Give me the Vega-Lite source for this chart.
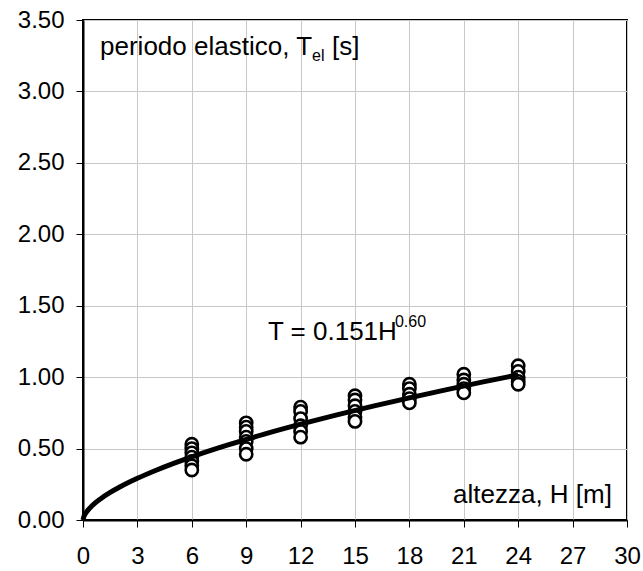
{
  "$schema": "https://vega.github.io/schema/vega-lite/v6.json",
  "autosize": "none",
  "width": 544,
  "height": 500,
  "padding": {"left": 83, "top": 20, "right": 16, "bottom": 51},
  "background": "white",
  "config": {
    "view": {"stroke": "black", "strokeWidth": 2},
    "font": "Liberation Sans"
  },
  "datasets": {
    "pts": [
      {"H": 6, "T": 0.53}, {"H": 6, "T": 0.50}, {"H": 6, "T": 0.47}, {"H": 6, "T": 0.44}, {"H": 6, "T": 0.41}, {"H": 6, "T": 0.38}, {"H": 6, "T": 0.35},
      {"H": 9, "T": 0.68}, {"H": 9, "T": 0.65}, {"H": 9, "T": 0.62}, {"H": 9, "T": 0.58}, {"H": 9, "T": 0.55}, {"H": 9, "T": 0.50}, {"H": 9, "T": 0.46},
      {"H": 12, "T": 0.79}, {"H": 12, "T": 0.76}, {"H": 12, "T": 0.71}, {"H": 12, "T": 0.66}, {"H": 12, "T": 0.62}, {"H": 12, "T": 0.58},
      {"H": 15, "T": 0.87}, {"H": 15, "T": 0.84}, {"H": 15, "T": 0.80}, {"H": 15, "T": 0.76}, {"H": 15, "T": 0.72}, {"H": 15, "T": 0.69},
      {"H": 18, "T": 0.95}, {"H": 18, "T": 0.92}, {"H": 18, "T": 0.88}, {"H": 18, "T": 0.85}, {"H": 18, "T": 0.82},
      {"H": 21, "T": 1.02}, {"H": 21, "T": 0.98}, {"H": 21, "T": 0.95}, {"H": 21, "T": 0.92}, {"H": 21, "T": 0.89},
      {"H": 24, "T": 1.08}, {"H": 24, "T": 1.04}, {"H": 24, "T": 1.00}, {"H": 24, "T": 0.97}, {"H": 24, "T": 0.95}
    ],
    "fit": [
      {"H": 0, "T": 0}, {"H": 0.05, "T": 0.025}, {"H": 0.1, "T": 0.0379}, {"H": 0.25, "T": 0.0657}, {"H": 0.5, "T": 0.0996},
      {"H": 1, "T": 0.151}, {"H": 1.5, "T": 0.1926}, {"H": 2, "T": 0.2289}, {"H": 3, "T": 0.2919}, {"H": 4, "T": 0.3469},
      {"H": 5, "T": 0.3966}, {"H": 6, "T": 0.4425}, {"H": 8, "T": 0.5258}, {"H": 10, "T": 0.6011}, {"H": 12, "T": 0.6706},
      {"H": 14, "T": 0.7356}, {"H": 16, "T": 0.797}, {"H": 18, "T": 0.8553}, {"H": 20, "T": 0.9112}, {"H": 22, "T": 0.9648},
      {"H": 24, "T": 1.0165}
    ],
    "leftLabels": [
      {"H": 0.94, "T": 3.255, "txt": "periodo elastico, T"},
      {"H": 13.73, "T": 3.255, "txt": "[s]"},
      {"H": 10.2, "T": 1.26, "txt": "T = 0.151H"}
    ],
    "rightLabels": [
      {"H": 29.17, "T": 0.12, "txt": "altezza, H [m]"}
    ],
    "small": [
      {"H": 12.63, "T": 3.21, "txt": "el"},
      {"H": 17.2, "T": 1.351, "txt": "0.60"}
    ]
  },
  "layer": [
    {
      "data": {"name": "pts"},
      "mark": {"type": "point", "shape": "circle", "filled": true, "fill": "white", "stroke": "black", "strokeWidth": 2.6, "size": 150, "opacity": 1},
      "encoding": {
        "x": {
          "field": "H", "type": "quantitative",
          "scale": {"domain": [0, 30], "nice": false, "zero": true},
          "axis": {
            "values": [0, 3, 6, 9, 12, 15, 18, 21, 24, 27, 30],
            "title": null, "grid": true, "gridColor": "#c8c8c8", "gridWidth": 1,
            "domainColor": "black", "domainWidth": 2,
            "tickColor": "black", "tickSize": 7, "tickWidth": 1,
            "labelFontSize": 24, "labelColor": "black", "labelPadding": 17,
            "labelFont": "Liberation Sans", "labelFlush": false
          }
        },
        "y": {
          "field": "T", "type": "quantitative",
          "scale": {"domain": [0, 3.5], "nice": false, "zero": true},
          "axis": {
            "values": [0, 0.5, 1, 1.5, 2, 2.5, 3, 3.5],
            "format": ".2f",
            "title": null, "grid": true, "gridColor": "#c8c8c8", "gridWidth": 1,
            "domainColor": "black", "domainWidth": 2,
            "tickColor": "black", "tickSize": 7, "tickWidth": 1,
            "labelFontSize": 24, "labelColor": "black", "labelPadding": 12,
            "labelFont": "Liberation Sans", "labelFlush": false
          }
        }
      }
    },
    {
      "data": {"name": "fit"},
      "mark": {"type": "line", "color": "black", "strokeWidth": 5, "interpolate": "monotone"},
      "encoding": {
        "x": {"field": "H", "type": "quantitative"},
        "y": {"field": "T", "type": "quantitative"}
      }
    },
    {
      "data": {"name": "leftLabels"},
      "mark": {"type": "text", "baseline": "alphabetic", "align": "left", "color": "black", "fontSize": 26, "font": "Liberation Sans"},
      "encoding": {
        "x": {"field": "H", "type": "quantitative"},
        "y": {"field": "T", "type": "quantitative"},
        "text": {"field": "txt"}
      }
    },
    {
      "data": {"name": "rightLabels"},
      "mark": {"type": "text", "baseline": "alphabetic", "align": "right", "color": "black", "fontSize": 26, "font": "Liberation Sans"},
      "encoding": {
        "x": {"field": "H", "type": "quantitative"},
        "y": {"field": "T", "type": "quantitative"},
        "text": {"field": "txt"}
      }
    },
    {
      "data": {"name": "small"},
      "mark": {"type": "text", "baseline": "alphabetic", "align": "left", "color": "black", "fontSize": 16, "font": "Liberation Sans"},
      "encoding": {
        "x": {"field": "H", "type": "quantitative"},
        "y": {"field": "T", "type": "quantitative"},
        "text": {"field": "txt"}
      }
    }
  ]
}
